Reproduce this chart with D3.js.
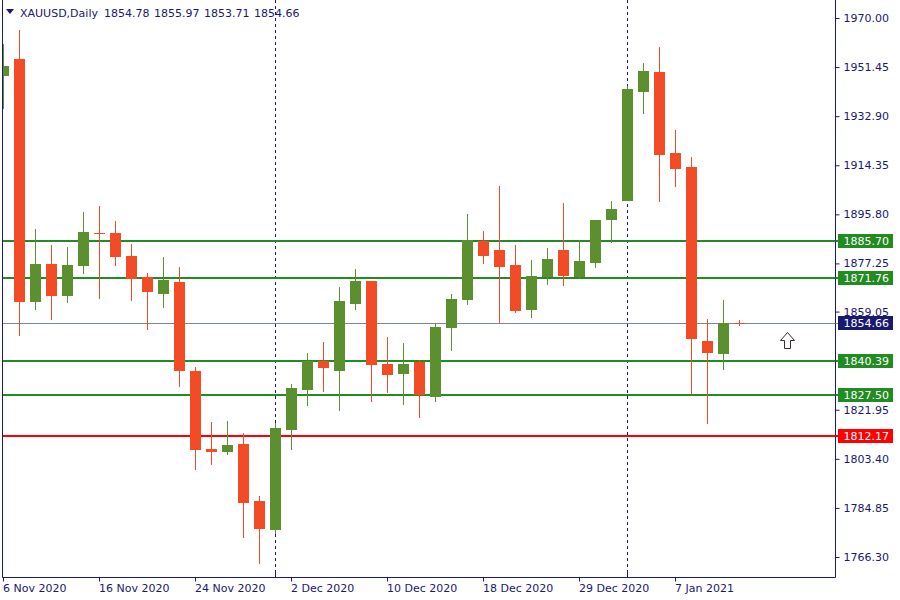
<!DOCTYPE html>
<html>
<head>
<meta charset="utf-8">
<script src="https://cdn.jsdelivr.net/npm/d3@7"></script>
<style>
  html, body { margin: 0; padding: 0; background: #fff; }
  svg { display: block; }
  text { font-family: "DejaVu Sans", sans-serif; font-size: 11px; }
</style>
</head>
<body>
<svg id="chart" width="900" height="600"></svg>
<script>
// ---------------- data ----------------
const symbol = "XAUUSD,Daily";
const headerValues = ["1854.78", "1855.97", "1853.71", "1854.66"];

const dates = [
  "2020-11-06","2020-11-09","2020-11-10","2020-11-11","2020-11-12","2020-11-13",
  "2020-11-16","2020-11-17","2020-11-18","2020-11-19","2020-11-20","2020-11-23",
  "2020-11-24","2020-11-25","2020-11-26","2020-11-27","2020-11-30","2020-12-01",
  "2020-12-02","2020-12-03","2020-12-04","2020-12-07","2020-12-08","2020-12-09",
  "2020-12-10","2020-12-11","2020-12-14","2020-12-15","2020-12-16","2020-12-17",
  "2020-12-18","2020-12-21","2020-12-22","2020-12-23","2020-12-24","2020-12-28",
  "2020-12-29","2020-12-30","2020-12-31","2021-01-04","2021-01-05","2021-01-06",
  "2021-01-07","2021-01-08","2021-01-11","2021-01-12","2021-01-13"
];
const open = [1948.16,1954.48,1862.60,1876.87,1864.87,1876.23,1888.80,1888.60,1879.90,1871.95,1865.63,1870.06,
  1836.74,1807.21,1806.08,1809.11,1787.53,1776.66,1814.52,1829.66,1840.53,1836.48,1861.84,1870.44,
  1839.39,1835.72,1839.88,1827.01,1852.76,1863.36,1885.58,1882.17,1876.49,1859.57,1872.06,1882.17,
  1871.83,1877.36,1893.64,1900.83,1942.10,1949.56,1918.89,1913.59,1848.10,1843.29,1854.78];
const high = [1960.16,1965.46,1890.12,1884.06,1883.31,1896.56,1898.83,1893.15,1884.44,1873.46,1879.52,1875.73,
  1837.99,1817.44,1817.81,1813.27,1789.42,1817.06,1831.82,1843.56,1847.72,1868.16,1874.98,1870.60,
  1849.61,1847.34,1840.91,1854.91,1865.51,1895.80,1889.36,1906.40,1884.06,1878.39,1882.93,1899.96,
  1885.96,1893.60,1900.72,1944.26,1952.96,1959.02,1927.60,1917.38,1856.43,1863.24,1855.97];
const low = [1935.55,1849.73,1859.57,1855.78,1862.22,1873.20,1863.73,1876.23,1862.98,1852.00,1860.33,1830.69,
  1799.26,1801.16,1804.94,1773.63,1763.79,1775.15,1806.83,1823.23,1828.53,1821.33,1859.57,1824.74,
  1828.15,1823.61,1818.68,1824.74,1844.05,1861.46,1876.98,1854.65,1858.43,1856.54,1869.03,1868.66,
  1871.19,1875.47,1884.94,1900.70,1933.77,1900.46,1906.13,1827.39,1816.41,1836.86,1853.71];
const close = [1951.83,1862.60,1876.87,1864.87,1876.49,1888.99,1888.40,1879.63,1871.31,1866.38,1870.81,1836.48,
  1806.83,1806.19,1808.73,1786.88,1777.04,1815.16,1830.31,1840.53,1837.99,1862.86,1870.44,1838.75,
  1835.34,1839.39,1827.39,1853.40,1863.62,1885.96,1880.01,1875.85,1859.19,1872.33,1878.76,1872.44,
  1878.01,1893.53,1897.69,1943.12,1949.94,1918.25,1912.95,1848.59,1843.67,1854.91,1854.66];

const tickDates  = ["2020-11-06","2020-11-16","2020-11-24","2020-12-02","2020-12-10","2020-12-18","2020-12-29","2021-01-07"];
const tickLabels = ["6 Nov 2020","16 Nov 2020","24 Nov 2020","2 Dec 2020","10 Dec 2020","18 Dec 2020","29 Dec 2020","7 Jan 2021"];
const monthStarts = ["2020-12-01","2021-01-04"];

const yTicks = [1970.00,1951.45,1932.90,1914.35,1895.80,1877.25,1859.05,1840.50,1821.95,1803.40,1784.85,1766.30];

const levelValues = [1885.70, 1871.76, 1840.39, 1827.50, 1812.17];
const levelKinds  = ["support","support","support","support","stop"];
const lastPrice = 1854.66;

// ---------------- styles ----------------
const C = {
  bull: "#5B8F30", bear: "#F24C26", axis: "#191970",
  level: "#228B22", stop: "#FF0000", last: "#778899"
};

// ---------------- layout ----------------
const svg = d3.select("#chart");
const plotLeft = 2.5, plotRight = 835.5, plotBottom = 577.5;

const x = d3.scaleBand().domain(dates).range([-4.5, -4.5 + 16 * dates.length]).padding(0);
const cx = d => x(d) + x.bandwidth() / 2;
const y = d3.scaleLinear().domain([1766.30, 1970.00]).range([557, 18]);

svg.append("rect").attr("width", 900).attr("height", 600).attr("fill", "#fff");

svg.append("clipPath").attr("id", "plotclip")
  .append("rect").attr("x", 3).attr("y", 0).attr("width", 832).attr("height", 577);

const plot = svg.append("g").attr("clip-path", "url(#plotclip)");

// month separators
plot.selectAll("line.sep").data(monthStarts).join("line")
  .attr("x1", d => cx(d)).attr("x2", d => cx(d))
  .attr("y1", 0).attr("y2", 577)
  .attr("stroke", C.axis).attr("stroke-width", 1).attr("stroke-dasharray", "3,3");

// horizontal levels
const yr = v => Math.round(y(v));
plot.append("line")
  .attr("x1", 3).attr("x2", 835).attr("y1", yr(lastPrice) + 0.5).attr("y2", yr(lastPrice) + 0.5)
  .attr("stroke", C.last).attr("stroke-width", 1);
plot.selectAll("line.lvl").data(levelValues).join("line")
  .attr("x1", 3).attr("x2", 835)
  .attr("y1", d => yr(d)).attr("y2", d => yr(d))
  .attr("stroke", (d, i) => levelKinds[i] === "stop" ? C.stop : C.level)
  .attr("stroke-width", 2);

// candles
const bars = dates.map((d, i) => ({ d, o: open[i], h: high[i], l: low[i], c: close[i] }));
const g = plot.selectAll("g.candle").data(bars).join("g");
g.append("line")
  .attr("x1", b => cx(b.d)).attr("x2", b => cx(b.d))
  .attr("y1", b => Math.round(y(b.h))).attr("y2", b => Math.round(y(b.l)))
  .attr("stroke", b => b.c >= b.o ? C.bull : C.bear).attr("stroke-width", 1);
g.append("rect")
  .attr("x", b => cx(b.d) - 5.5)
  .attr("width", 11)
  .attr("y", b => Math.round(y(Math.max(b.o, b.c))))
  .attr("height", b => Math.max(1, Math.round(Math.abs(y(b.o) - y(b.c)))))
  .attr("fill", b => b.c >= b.o ? C.bull : C.bear);

// frame
svg.append("line").attr("x1", plotLeft).attr("x2", plotLeft).attr("y1", 0).attr("y2", plotBottom)
  .attr("stroke", C.axis);
svg.append("line").attr("x1", plotRight).attr("x2", plotRight).attr("y1", 0).attr("y2", plotBottom)
  .attr("stroke", C.axis);
svg.append("line").attr("x1", plotLeft).attr("x2", plotRight).attr("y1", plotBottom).attr("y2", plotBottom)
  .attr("stroke", C.axis);

// right axis
const yAxis = svg.append("g").attr("transform", `translate(${plotRight},0)`)
  .call(d3.axisRight(y).tickValues(yTicks).tickFormat(d3.format(".2f")).tickSize(4).tickPadding(4));
yAxis.select(".domain").remove();
yAxis.selectAll(".tick line").attr("stroke", C.axis);
yAxis.selectAll(".tick text").attr("fill", C.axis)
  .style("font-family", '"DejaVu Sans", sans-serif').style("font-size", "11px");

// bottom axis
const xAxis = svg.append("g").attr("transform", `translate(0,${plotBottom})`)
  .call(d3.axisBottom(x).tickValues(tickDates).tickFormat((d, i) => tickLabels[i]).tickSize(4).tickPadding(3));
xAxis.select(".domain").remove();
xAxis.selectAll(".tick line").attr("stroke", C.axis);
xAxis.selectAll(".tick text").attr("fill", C.axis).attr("text-anchor", "start").attr("x", -0.5)
  .style("font-family", '"DejaVu Sans", sans-serif').style("font-size", "11px");
// month separator marks on bottom axis
svg.selectAll("line.msep").data(monthStarts).join("line")
  .attr("x1", d => cx(d)).attr("x2", d => cx(d))
  .attr("y1", plotBottom - 5).attr("y2", plotBottom - 1)
  .attr("stroke", C.axis);

// price labels
const labels = levelValues.map((v, i) => ({ v, col: levelKinds[i] === "stop" ? C.stop : C.level }))
  .concat([{ v: lastPrice, col: C.axis }]);
const lg = svg.selectAll("g.plabel").data(labels).join("g");
lg.append("line").attr("x1", plotRight).attr("x2", 839)
  .attr("y1", d => yr(d.v) + (d.col === C.axis ? 0.5 : 0)).attr("y2", d => yr(d.v) + (d.col === C.axis ? 0.5 : 0))
  .attr("stroke", d => d.col === C.axis ? C.last : d.col).attr("stroke-width", d => d.col === C.axis ? 1 : 2);
lg.append("rect").attr("x", 838).attr("width", 55)
  .attr("y", d => yr(d.v) - 7).attr("height", 14).attr("fill", d => d.col);
lg.append("text").attr("x", 843.5).attr("y", d => yr(d.v)).attr("dy", "0.36em")
  .attr("fill", "#fff").text(d => d3.format(".2f")(d.v));

// header
svg.append("path").attr("d", "M6,9 L14,9 L10,14 Z").attr("fill", C.axis);
svg.append("text").attr("x", 20).attr("y", 17).attr("fill", C.axis).text(symbol);
const headerX = [104, 154, 204, 254];
svg.selectAll("text.hv").data(headerValues).join("text")
  .attr("x", (d, i) => headerX[i]).attr("y", 17).attr("fill", C.axis).text(d => d);

// arrow icon
svg.append("path")
  .attr("d", "M787.5,332.5 L794.5,340.5 L790.5,340.5 L790.5,348.5 L784.5,348.5 L784.5,340.5 L780.5,340.5 Z")
  .attr("fill", "#fff").attr("stroke", "#3a2a2a").attr("stroke-width", 1);
</script>
</body>
</html>
